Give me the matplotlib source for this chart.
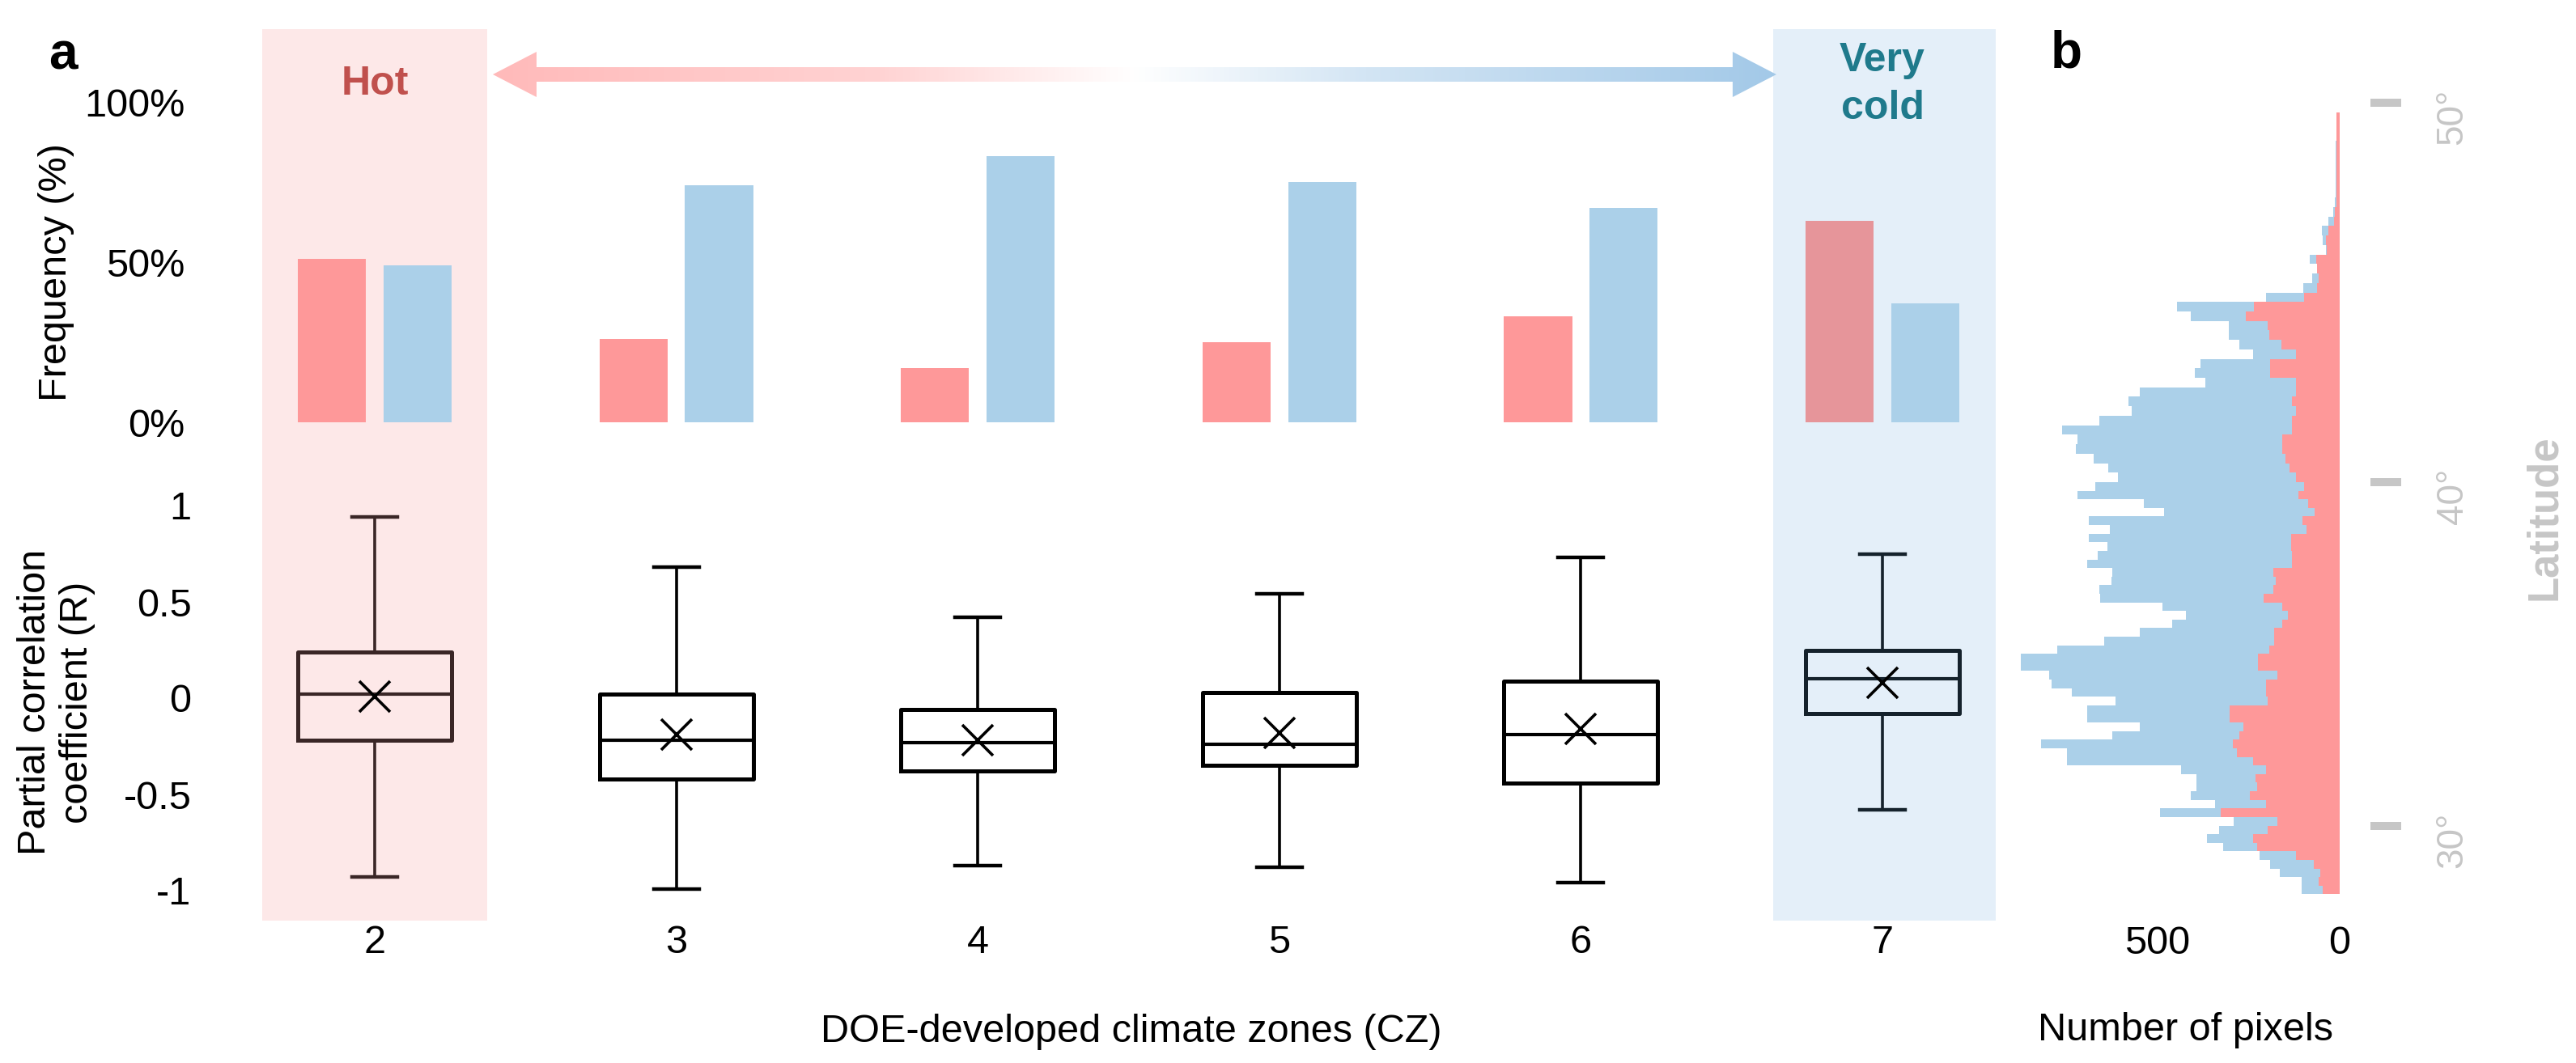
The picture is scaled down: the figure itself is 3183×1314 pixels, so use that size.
import numpy as np
import matplotlib
matplotlib.use("Agg")
import matplotlib.pyplot as plt
from matplotlib.patches import FancyArrow
from matplotlib.colors import LinearSegmentedColormap

plt.rcParams["font.family"] = ["Liberation Sans", "DejaVu Sans"]

# ---------------- data ----------------
zones = [2, 3, 4, 5, 6, 7]
zone_labels = ["2", "3", "4", "5", "6", "7"]

freq_positive = [51, 26, 17, 25, 33, 63]   # red bars (%)
freq_negative = [49, 74, 83, 75, 67, 37]   # blue bars (%)
freq_ticks = [0, 50, 100]
freq_ticklabels = ["0%", "50%", "100%"]

r_whislo = [-0.93, -0.99, -0.87, -0.88, -0.96, -0.58]
r_q1     = [-0.22, -0.42, -0.38, -0.35, -0.44, -0.08]
r_median = [0.02, -0.22, -0.23, -0.24, -0.19, 0.10]
r_q3     = [0.24, 0.02, -0.06, 0.03, 0.09, 0.25]
r_whishi = [0.94, 0.68, 0.42, 0.54, 0.73, 0.75]
r_mean   = [0.01, -0.19, -0.22, -0.18, -0.16, 0.08]
r_ticks = [-1, -0.5, 0, 0.5, 1]
r_ticklabels = ["-1", "-0.5", "0", "0.5", "1"]

# latitude histogram, 0.25 deg bins, listed from north (49.625) to south (28.125)
hist_red = [9, 8, 9, 9, 8, 8, 8, 8, 8, 9,
            13, 16, 32, 38, 35, 64, 61, 57, 61, 97,
            234, 256, 197, 193, 160, 120, 190, 190, 120, 120,
            131, 120, 131, 131, 157, 157, 149, 138, 120, 97,
            112, 86, 68, 101, 90, 134, 134, 131, 131, 182,
            175, 182, 208, 157, 142, 157, 179, 179, 193, 223,
            223, 171, 201, 201, 197, 301, 301, 264, 275, 293,
            282, 238, 201, 230, 227, 245, 201, 326, 171, 197,
            238, 227, 120, 72, 53, 57, 46]
hist_blue = [6, 6, 9, 10, 10, 11, 11, 11, 12, 14,
             18, 30, 49, 46, 38, 83, 57, 75, 99, 201,
             445, 408, 304, 304, 275, 238, 382, 397, 367, 548,
             578, 570, 659, 760, 718, 722, 674, 633, 607, 670,
             718, 537, 481, 688, 629, 688, 637, 662, 692, 622,
             626, 659, 655, 485, 422, 459, 548, 644, 773, 873,
             873, 795, 788, 733, 614, 692, 692, 548, 622, 818,
             747, 747, 434, 393, 393, 408, 341, 493, 290, 330,
             363, 319, 219, 190, 164, 105, 105]
hist_lat_south = 28.0
hist_bin = 0.25
lat_ticks = [30, 40, 50]
lat_ticklabels = ["30°", "40°", "50°"]
pix_ticks = [500, 0]
pix_ticklabels = ["500", "0"]

# ---------------- style ----------------
RED = "#fe9899"
RED_ON_BLUE = "#e6959a"
BLUE = "#abd0e9"
HOT_BG = "#fde8e8"
COLD_BG = "#e4eff9"
HOT_TXT = "#c0504d"
COLD_TXT = "#1f7a8c"
GREY = "#c6c6c6"

W, H = 3183, 1314
fig = plt.figure(figsize=(W / 100, H / 100), dpi=100)


def rect(x0, y0, x1, y1):
    return [x0 / W, 1 - y1 / H, (x1 - x0) / W, (y1 - y0) / H]


def fx(px):
    return px / W


def fy(py):
    return 1 - py / H


XL = (1.627, 7.376)
PX_PER_ZONE = 372.6

# background axes: highlight bands + arrow
ax_bg = fig.add_axes(rect(324, 36, 2466, 1138))
ax_bg.axvspan(2 - 0.373, 2 + 0.373, color=HOT_BG, lw=0, zorder=0)
ax_bg.axvspan(7 - 0.362, 7 + 0.38, color=COLD_BG, lw=0, zorder=0)

ya = (1138 - 92) / 1102
x_left = 2 + (609 - 463) / PX_PER_ZONE
x_right = 2 + (2195 - 463) / PX_PER_ZONE
shaft = 18 / 1102
head_w = 56 / 1102
head_l = 54 / PX_PER_ZONE
xm = (x_left + x_right) / 2
cmap = LinearSegmentedColormap.from_list(
    "arr", [(0, "#ffbaba"), (0.3, "#ffd3d3"), (0.5, "#ffffff"),
            (0.68, "#d3e5f4"), (1, "#a3c9e8")])
grad = np.linspace(0, 1, 600).reshape(1, -1)
for start, tip in [(xm + 0.02, x_left), (xm - 0.02, x_right)]:
    arr = FancyArrow(start, ya, tip - start, 0, width=shaft, head_width=head_w,
                     head_length=head_l, length_includes_head=True,
                     facecolor="none", edgecolor="none")
    ax_bg.add_patch(arr)
    im = ax_bg.imshow(grad, extent=[x_left, x_right, ya - head_w, ya + head_w],
                      aspect="auto", cmap=cmap, zorder=2, interpolation="bilinear")
    im.set_clip_path(arr)
ax_bg.set_xlim(XL)
ax_bg.set_ylim(0, 1)
ax_bg.axis("off")

# frequency bars
ax_bar = fig.add_axes(rect(324, 126, 2466, 522))
ax_bar.patch.set_visible(False)
zx = np.array(zones, dtype=float)
red_colors = [RED_ON_BLUE if z == 7 else RED for z in zones]
ax_bar.bar(zx - 0.142, freq_positive, width=0.226, color=red_colors, lw=0)
ax_bar.bar(zx + 0.142, freq_negative, width=0.226, color=BLUE, lw=0)
ax_bar.set_xlim(XL)
ax_bar.set_ylim(0, 100)
ax_bar.set_yticks(freq_ticks)
ax_bar.set_yticklabels(freq_ticklabels)
ax_bar.set_xticks([])
ax_bar.tick_params(axis="y", length=0, pad=69, labelsize=35)
for s in ax_bar.spines.values():
    s.set_visible(False)

# box plots
ax_box = fig.add_axes(rect(324, 625, 2466, 1101))
ax_box.patch.set_visible(False)
stats = []
for i, z in enumerate(zones):
    stats.append(dict(med=r_median[i], q1=r_q1[i], q3=r_q3[i],
                      whislo=r_whislo[i], whishi=r_whishi[i],
                      mean=r_mean[i], label=zone_labels[i], fliers=[]))
art = ax_box.bxp(stats, positions=zones, widths=0.51, capwidths=0.15,
                 showmeans=True, showfliers=False, manage_ticks=False,
                 boxprops=dict(linewidth=3.6, color="black"),
                 medianprops=dict(linewidth=3.0, color="black"),
                 whiskerprops=dict(linewidth=2.6, color="black"),
                 capprops=dict(linewidth=3.2, color="black"),
                 meanprops=dict(marker="x", markersize=27, markeredgewidth=2.6,
                                markeredgecolor="black", markerfacecolor="none"))
edge_cols = {2: "#3a2626", 7: "#15222c"}
for i, z in enumerate(zones):
    if z in edge_cols:
        c = edge_cols[z]
        art["boxes"][i].set_color(c)
        art["medians"][i].set_color(c)
        for k in (2 * i, 2 * i + 1):
            art["whiskers"][k].set_color(c)
            art["caps"][k].set_color(c)
for ln in art["whiskers"] + art["caps"] + art["boxes"] + art["medians"] + art["means"]:
    ln.set_clip_on(False)
ax_box.set_xlim(XL)
ax_box.set_ylim(-1, 1)
ax_box.set_yticks(r_ticks)
ax_box.set_yticklabels(r_ticklabels)
ax_box.set_xticks(zones)
ax_box.set_xticklabels(zone_labels)
ax_box.tick_params(axis="y", length=0, pad=63, labelsize=35)
ax_box.tick_params(axis="x", length=0, pad=30, labelsize=35)
for s in ax_box.spines.values():
    s.set_visible(False)

# panel b: latitude histogram
knot_lat = np.array([10.0, 30.0, 40.0, 50.0, 70.0])
knot_px = np.array([1869.5, 1020.5, 596.0, 127.0, -811.0])


def fwd(lat):
    return -np.interp(lat, knot_lat, knot_px)


def inv(v):
    return np.interp(v, -knot_px, knot_lat)


ax_b = fig.add_axes(rect(2470, 36, 2891, 1138))
ax_b.patch.set_visible(False)
ax_b.set_yscale("function", functions=(fwd, inv))
edges = hist_lat_south + hist_bin * np.arange(len(hist_red) + 1)
ax_b.stairs(np.array(hist_blue)[::-1], edges, orientation="horizontal",
            fill=True, color=BLUE, baseline=0)
ax_b.stairs(np.array(hist_red)[::-1], edges, orientation="horizontal",
            fill=True, color=RED, baseline=0)
ax_b.set_xlim(933, 0)
ax_b.set_ylim(inv(-1138.0), inv(-36.0))
ax_b.set_xticks(pix_ticks)
ax_b.set_xticklabels(pix_ticklabels)
ax_b.tick_params(axis="x", length=0, pad=4, labelsize=35)
ax_b.yaxis.tick_right()
ax_b.spines["right"].set_position(("outward", 38 * 0.72))
for s in ax_b.spines.values():
    s.set_visible(False)
ax_b.set_yticks(lat_ticks)
ax_b.set_yticklabels(lat_ticklabels)
ax_b.yaxis.set_minor_locator(matplotlib.ticker.NullLocator())
ax_b.tick_params(axis="y", which="major", right=True, left=False,
                 labelright=True, labelleft=False, length=38 * 0.72,
                 width=10 * 0.72, color=GREY, direction="out",
                 labelrotation=90, pad=30, labelsize=33, labelcolor=GREY)

# ---------------- texts ----------------
fig.text(fx(60), fy(86), "a", fontsize=46, fontweight="bold", ha="left", va="baseline")
fig.text(fx(2534), fy(84), "b", fontsize=46, fontweight="bold", ha="left", va="baseline")
fig.text(fx(463), fy(117), "Hot", fontsize=36, fontweight="bold", color=HOT_TXT,
         ha="center", va="baseline")
fig.text(fx(2326), fy(88), "Very", fontsize=36, fontweight="bold", color=COLD_TXT,
         ha="center", va="baseline")
fig.text(fx(2326), fy(147), "cold", fontsize=36, fontweight="bold", color=COLD_TXT,
         ha="center", va="baseline")
fig.text(fx(70), fy(337), "Frequency (%)", rotation=90, fontsize=35,
         ha="center", va="center")
fig.text(fx(70), fy(868), "Partial correlation\ncoefficient (R)", rotation=90,
         fontsize=35, ha="center", va="center", linespacing=1.2)
fig.text(fx(1398), fy(1275), "DOE-developed climate zones (CZ)", fontsize=35,
         ha="center", va="center")
fig.text(fx(2701), fy(1274), "Number of pixels", fontsize=35, ha="center", va="center")
fig.text(fx(3144), fy(640), "Latitude", rotation=90, fontsize=38, fontweight="bold",
         color=GREY, ha="center", va="center")

fig.savefig("out.png", dpi=100)
